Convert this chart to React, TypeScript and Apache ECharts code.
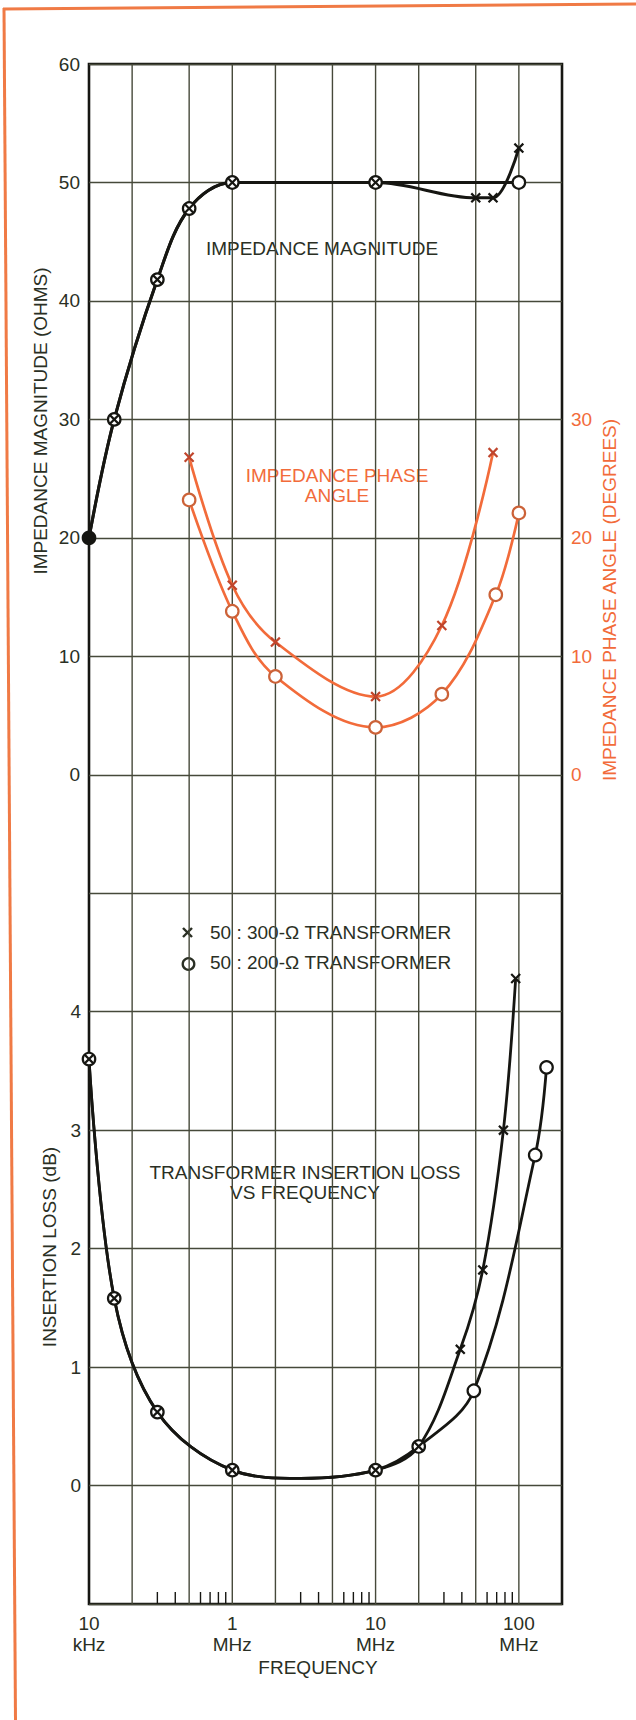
import React, { useEffect, useRef } from 'react';
import * as echarts from 'echarts';

// ---------- axis ticks / labels ----------
const FREQ_TICKS = [1e5, 1e6, 1e7, 1e8];
const FREQ_TICK_LABELS = ['10\nkHz', '1\nMHz', '10\nMHz', '100\nMHz'];
const FREQ_MIN = 1e5;
const FREQ_MAX = 2e8;
const GRID_FREQS = [2e5, 5e5, 1e6, 2e6, 5e6, 1e7, 2e7, 5e7, 1e8];
const MINOR_FREQS = [3e5, 4e5, 6e5, 7e5, 8e5, 9e5, 3e6, 4e6, 6e6, 7e6, 8e6, 9e6, 3e7, 4e7, 6e7, 7e7, 8e7, 9e7];
const IMPEDANCE_LABELS = [0, 10, 20, 30, 40, 50, 60];
const LOSS_LABELS = [0, 1, 2, 3, 4];
const PHASE_LABELS = [0, 10, 20, 30];

// ---------- impedance magnitude (ohms) ----------
const mag300F = [1e5, 1.5e5, 3e5, 5e5, 1e6, 1e7, 5e7, 6.6e7, 1e8];
const mag300V = [20, 30, 41.8, 47.8, 50, 50, 48.7, 48.7, 52.9];
const mag200F = [1e5, 1.5e5, 3e5, 5e5, 1e6, 1e7, 1e8];
const mag200V = [20, 30, 41.8, 47.8, 50, 50, 50];
const mag200Solid = [1, 0, 0, 0, 0, 0, 0];

// ---------- impedance phase angle (degrees) ----------
const phase300F = [5e5, 1e6, 2e6, 1e7, 2.9e7, 6.6e7];
const phase300V = [26.8, 16.0, 11.2, 6.6, 12.6, 27.2];
const phase200F = [5e5, 1e6, 2e6, 1e7, 2.9e7, 6.9e7, 1e8];
const phase200V = [23.2, 13.8, 8.3, 4.0, 6.8, 15.2, 22.1];

// ---------- insertion loss (dB) ----------
const loss300F = [1e5, 1.5e5, 3e5, 1e6, 3e6, 1e7, 2e7, 3.9e7, 5.6e7, 7.8e7, 9.5e7];
const loss300V = [3.6, 1.58, 0.62, 0.13, 0.06, 0.13, 0.33, 1.15, 1.82, 3.0, 4.28];
const loss300Mark = [1, 1, 1, 1, 0, 1, 1, 1, 1, 1, 1];
const loss200F = [1e5, 1.5e5, 3e5, 1e6, 3e6, 1e7, 2e7, 4.85e7, 1.3e8, 1.56e8];
const loss200V = [3.6, 1.58, 0.62, 0.13, 0.06, 0.13, 0.33, 0.8, 2.79, 3.53];
const loss200Mark = [1, 1, 1, 1, 0, 1, 1, 1, 1, 1];

const TXT = '#2a2f24';
const GRID = '#46493a';
const INK = '#161612';
const ORANGE = '#f26b3a';
const FONT = '"Liberation Sans", Arial, sans-serif';
const FS = 19;
const X_PATH = 'path://M0,1.5L1.5,0L5,3.5L8.5,0L10,1.5L6.5,5L10,8.5L8.5,10L5,6.5L1.5,10L0,8.5L3.5,5Z';

const lg = (f: number) => Math.log10(f);
const pts = (F: number[], V: number[]) => F.map((f, i) => [lg(f), V[i]]);
const marked = (F: number[], V: number[], M?: number[]) =>
  F.map((f, i) => [lg(f), V[i]]).filter((_, i) => !M || M[i]);

const lineSeries = (name: string, data: number[][], yAxisIndex: number, color: string, width: number) => ({
  type: 'line', name, data, yAxisIndex, smooth: 0.35, symbol: 'none', silent: true, z: 3,
  lineStyle: { color, width }, clip: false,
});
const circleSeries = (name: string, data: any[], yAxisIndex: number, stroke: string) => ({
  type: 'scatter', name, data, yAxisIndex, symbol: 'circle', symbolSize: 12.5, silent: true, z: 4,
  itemStyle: { color: '#ffffff', borderColor: stroke, borderWidth: 2.2, opacity: 1 },
});
const crossSeries = (name: string, data: number[][], yAxisIndex: number, color: string) => ({
  type: 'scatter', name, data, yAxisIndex, symbol: X_PATH, symbolSize: 10.5, silent: true, z: 5,
  itemStyle: { color, opacity: 1 },
});

const labelText = (list: number[]) => (v: number) =>
  list.indexOf(Math.round(v)) >= 0 && Math.abs(v - Math.round(v)) < 1e-6 ? String(Math.round(v)) : '';

const magCircles = marked(mag200F, mag200V).map((p, i) =>
  mag200Solid[i] ? { value: p, itemStyle: { color: INK } } : p,
);

const option: any = {
  animation: false,
  backgroundColor: '#ffffff',
  grid: { left: 89, right: 74, top: 64, bottom: 116, show: true, borderColor: INK, borderWidth: 2.6, backgroundColor: 'transparent' },
  xAxis: {
    type: 'value', min: lg(FREQ_MIN), max: lg(FREQ_MAX), interval: 1,
    axisLine: { show: false }, axisTick: { show: false }, splitLine: { show: false },
    axisLabel: {
      showMaxLabel: false, fontSize: FS, fontFamily: FONT, color: TXT, margin: 9, lineHeight: 21,
      formatter: (v: number) => {
        const i = FREQ_TICKS.findIndex((f) => Math.abs(lg(f) - v) < 1e-6);
        return i >= 0 ? FREQ_TICK_LABELS[i] : '';
      },
    },
  },
  yAxis: [
    {
      type: 'value', position: 'left', min: -70, max: 60, interval: 10,
      axisLine: { show: false }, axisTick: { show: false },
      splitLine: { show: true, lineStyle: { color: GRID, width: 1.4 } },
      axisLabel: { fontSize: FS, fontFamily: FONT, color: TXT, margin: 9, formatter: labelText(IMPEDANCE_LABELS) },
    },
    {
      type: 'value', position: 'left', min: -1, max: 12, interval: 1,
      axisLine: { show: false }, axisTick: { show: false }, splitLine: { show: false },
      axisLabel: { fontSize: FS, fontFamily: FONT, color: TXT, margin: 8, formatter: labelText(LOSS_LABELS) },
    },
    {
      type: 'value', position: 'right', min: -70, max: 60, interval: 10,
      axisLine: { show: false }, axisTick: { show: false }, splitLine: { show: false },
      axisLabel: { fontSize: FS, fontFamily: FONT, color: ORANGE, margin: 9, formatter: labelText(PHASE_LABELS) },
    },
  ],
  series: [
    {
      type: 'custom', name: 'gridlines', yAxisIndex: 1, silent: true, z: 1, clip: false,
      data: GRID_FREQS.map((f) => [lg(f), 0]),
      encode: { x: 0, y: 1 },
      renderItem: (_p: any, api: any) => {
        const x = api.value(0);
        const a = api.coord([x, -1]);
        const b = api.coord([x, 12]);
        return { type: 'line', shape: { x1: a[0], y1: a[1], x2: b[0], y2: b[1] }, style: { stroke: GRID, lineWidth: 1.4 } };
      },
    },
    {
      type: 'custom', name: 'minorTicks', yAxisIndex: 1, silent: true, z: 1, clip: false,
      data: MINOR_FREQS.map((f) => [lg(f), 0]),
      encode: { x: 0, y: 1 },
      renderItem: (_p: any, api: any) => {
        const x = api.value(0);
        const a = api.coord([x, -1]);
        return { type: 'line', shape: { x1: a[0], y1: a[1], x2: a[0], y2: a[1] - 12 }, style: { stroke: INK, lineWidth: 1.4 } };
      },
    },
    lineSeries('mag200', pts(mag200F, mag200V), 0, INK, 3),
    lineSeries('mag300', pts(mag300F, mag300V), 0, INK, 3),
    lineSeries('phase200', pts(phase200F, phase200V), 2, ORANGE, 2.7),
    lineSeries('phase300', pts(phase300F, phase300V), 2, ORANGE, 2.7),
    lineSeries('loss200', pts(loss200F, loss200V), 1, INK, 2.8),
    lineSeries('loss300', pts(loss300F, loss300V), 1, INK, 2.8),
    circleSeries('mag200 pts', magCircles, 0, INK),
    circleSeries('phase200 pts', marked(phase200F, phase200V), 2, '#cc6238'),
    circleSeries('loss200 pts', marked(loss200F, loss200V, loss200Mark), 1, INK),
    crossSeries('mag300 pts', marked(mag300F, mag300V), 0, INK),
    crossSeries('phase300 pts', marked(phase300F, phase300V), 2, '#c0452c'),
    crossSeries('loss300 pts', marked(loss300F, loss300V, loss300Mark), 1, INK),
  ],
  graphic: [
    { type: 'line', silent: true, shape: { x1: 3, y1: 9, x2: 636, y2: 4 }, style: { stroke: '#f07a45', lineWidth: 3 } },
    { type: 'line', silent: true, shape: { x1: 4, y1: 8, x2: 15.5, y2: 1720 }, style: { stroke: '#f07a45', lineWidth: 3 } },
    {
      type: 'text', silent: true, x: 40.5, y: 421, rotation: Math.PI / 2,
      style: { text: 'IMPEDANCE MAGNITUDE (OHMS)', fill: TXT, font: `${FS}px ${FONT}`, textAlign: 'center', textVerticalAlign: 'middle' },
    },
    {
      type: 'text', silent: true, x: 49.5, y: 1247, rotation: Math.PI / 2,
      style: { text: 'INSERTION LOSS (dB)', fill: TXT, font: `${FS}px ${FONT}`, textAlign: 'center', textVerticalAlign: 'middle' },
    },
    {
      type: 'text', silent: true, x: 609, y: 600, rotation: Math.PI / 2,
      style: { text: 'IMPEDANCE PHASE ANGLE (DEGREES)', fill: ORANGE, font: `${FS}px ${FONT}`, textAlign: 'center', textVerticalAlign: 'middle' },
    },
    {
      type: 'text', silent: true, x: 322, y: 248,
      style: { text: 'IMPEDANCE MAGNITUDE', fill: TXT, font: `${FS}px ${FONT}`, textAlign: 'center', textVerticalAlign: 'middle' },
    },
    {
      type: 'text', silent: true, x: 337, y: 485,
      style: { text: 'IMPEDANCE PHASE\nANGLE', fill: ORANGE, font: `${FS}px ${FONT}`, lineHeight: 20, textAlign: 'center', textVerticalAlign: 'middle' },
    },
    { type: 'line', silent: true, shape: { x1: 183, y1: 928, x2: 192, y2: 937 }, style: { stroke: TXT, lineWidth: 2.4 } },
    { type: 'line', silent: true, shape: { x1: 183, y1: 937, x2: 192, y2: 928 }, style: { stroke: TXT, lineWidth: 2.4 } },
    {
      type: 'text', silent: true, x: 210, y: 932,
      style: { text: '50 : 300-Ω TRANSFORMER', fill: TXT, font: `${FS}px ${FONT}`, textAlign: 'left', textVerticalAlign: 'middle' },
    },
    { type: 'circle', silent: true, shape: { cx: 188.5, cy: 964, r: 5.8 }, style: { fill: '#ffffff', stroke: TXT, lineWidth: 2.3 } },
    {
      type: 'text', silent: true, x: 210, y: 962.5,
      style: { text: '50 : 200-Ω TRANSFORMER', fill: TXT, font: `${FS}px ${FONT}`, textAlign: 'left', textVerticalAlign: 'middle' },
    },
    {
      type: 'text', silent: true, x: 305, y: 1182,
      style: { text: 'TRANSFORMER INSERTION LOSS\nVS FREQUENCY', fill: TXT, font: `${FS}px ${FONT}`, lineHeight: 20, textAlign: 'center', textVerticalAlign: 'middle' },
    },
    {
      type: 'text', silent: true, x: 318, y: 1667,
      style: { text: 'FREQUENCY', fill: TXT, font: `${FS}px ${FONT}`, textAlign: 'center', textVerticalAlign: 'middle' },
    },
  ],
};

export default function App() {
  const ref = useRef<HTMLDivElement>(null);
  useEffect(() => {
    if (!ref.current) return;
    const chart = echarts.init(ref.current, null, { renderer: 'svg' });
    chart.setOption(option);
    return () => chart.dispose();
  }, []);
  return (
    <div
      ref={ref}
      style={{ position: 'absolute', left: 0, top: 0, width: 636, height: 1720, background: '#ffffff' }}
    />
  );
}
